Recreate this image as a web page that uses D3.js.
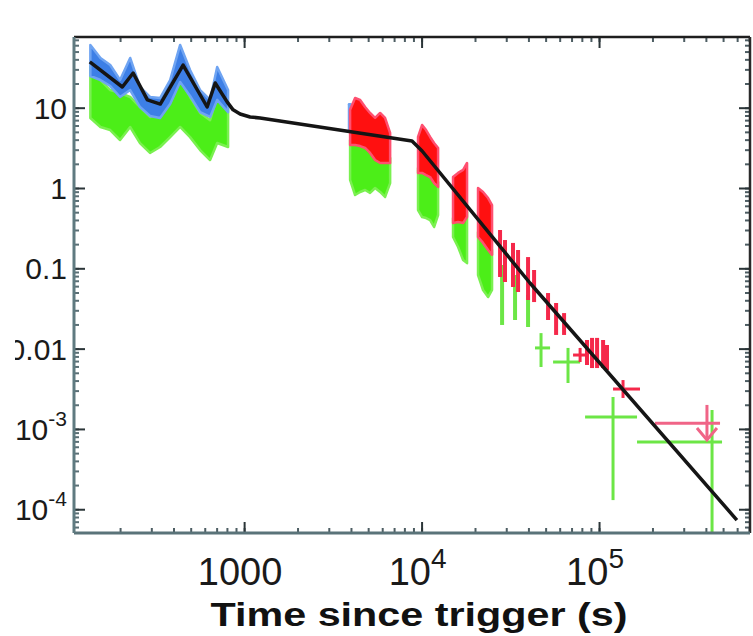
<!DOCTYPE html>
<html><head><meta charset="utf-8">
<script src="https://cdn.jsdelivr.net/npm/d3@7"></script>
<style>html,body{margin:0;padding:0;background:#fff}svg{display:block}</style>
</head><body>
<svg id="c" width="753" height="636"></svg>
<script>
// ---------------- data ----------------
const xDomain = [110, 7.09e5];
const yDomain = [5.06e-5, 75.9];

const xTickValues = [1000, 1e4, 1e5];
const xTickBase   = ["1000", "10", "10"];
const xTickExp    = ["", "4", "5"];
const yTickValues = [10, 1, 0.1, 0.01, 1e-3, 1e-4];
const yTickBase   = ["10", "1", "0.1", "0.01", "10", "10"];
const yTickExp    = ["", "", "", "", "-3", "-4"];
const xTitle = "Time since trigger (s)";

// best-fit model (black line)
const modelTime = [135, 206, 237, 285, 337, 453, 619, 687, 802, 867, 949, 1081, 1230, 8830, 10070, 40800, 598000];
const modelFlux = [37.1, 18.1, 27.0, 12.5, 11.1, 34.0, 10.2, 20.3, 11.8, 9.4, 8.35, 7.66, 7.45, 3.85, 2.89, 0.0656, 7.34e-5];

// BAT extrapolated data (blue = 0.3-10 keV, green = observed band)
const batTime    = [136, 155, 176, 200, 228, 259, 295, 336, 383, 436, 496, 565, 643, 705, 812];
const batBlueHi  = [60.4, 41.6, 34.0, 22.1, 41.6, 18.1, 13.6, 13.2, 22.1, 60.4, 29.5, 16.6, 12.5, 32.1, 16.6];
const batBlueLo  = [24.8, 22.1, 18.6, 13.6, 16.6, 10.2, 7.9, 7.45, 11.1, 20.9, 14.0, 8.8, 7.66, 12.5, 8.8];
const batGreenHi = [32.1, 22.1, 16.6, 15.2, 13.6, 10.2, 7.66, 8.6, 11.4, 22.1, 13.6, 8.6, 7.0, 13.6, 10.2];
const batGreenLo = [7.45, 5.75, 5.27, 3.96, 5.75, 3.63, 2.73, 3.24, 4.3, 5.75, 4.3, 2.97, 2.23, 3.63, 3.24];

// XRT orbits (red = unabsorbed, green = observed)
const xrtOrbit   = [1,1,1,1,1,1,1,1,1, 2,2,2,2,2,2, 3,3,3,3, 4,4,4,4];
const xrtTime    = [3955, 4220, 4505, 4805, 5125, 5470, 5840, 6225, 6650,
                    9550, 10070, 10600, 11170, 11760, 12390,
                    15040, 16060, 17140, 18040,
                    20800, 22200, 23700, 24950];
const xrtRedHi   = [9.4, 13.2, 12.5, 10.2, 8.6, 7.45, 8.6, 7.45, 4.84,
                    4.32, 6.09, 5.27, 4.32, 3.63, 3.15,
                    1.37, 1.54, 1.68, 2.05,
                    1.0, 0.892, 0.750, 0.614];
const xrtRedLo   = [3.43, 3.43, 3.33, 3.15, 2.73, 2.23, 2.05, 2.05, 2.05,
                    1.54, 1.54, 1.45, 1.37, 1.15, 1.03,
                    0.367, 0.377, 0.367, 0.435,
                    0.245, 0.207, 0.169, 0.147];
const xrtGreenHi = [3.96, 3.96, 3.85, 3.63, 3.15, 2.58, 2.36, 2.36, 2.36,
                    1.77, 1.77, 1.68, 1.58, 1.33, 1.19,
                    0.423, 0.435, 0.423, 0.503,
                    0.283, 0.238, 0.195, 0.169];
const xrtGreenLo = [1.26, 0.818, 0.892, 0.944, 0.867, 1.0, 0.892, 0.773, 1.15,
                    0.532, 0.435, 0.423, 0.399, 0.327, 0.461,
                    0.245, 0.184, 0.127, 0.116,
                    0.0826, 0.0537, 0.0439, 0.0537];
// small blue sliver at the start of the first XRT orbit
const xrtBlueTime = [3900, 3990];
const xrtBlueHi   = [11.0, 11.0];
const xrtBlueLo   = [5.3, 5.3];

// late single red error bars
const redBarTime = [27680, 29520, 32740, 34970, 39810, 43050, 51600, 57280, 63530, 85550, 91310, 97480, 105400, 110900];
const redBarHi   = [0.300, 0.225, 0.207, 0.169, 0.138, 0.0953, 0.0492, 0.0370, 0.0277, 0.0128, 0.0136, 0.0136, 0.0128, 0.0111];
const redBarLo   = [0.0780, 0.0675, 0.0585, 0.0507, 0.0403, 0.0380, 0.0227, 0.0148, 0.0148, 0.00625, 0.00573, 0.00573, 0.00573, 0.00541];
// red crosses
const redCrossTime = [78210, 136500];
const redCrossTLo  = [71380, 119900];
const redCrossTHi  = [85550, 170200];
const redCrossFlux = [0.00832, 0.00314];
const redCrossFLo  = [0.00681, 0.00243];
const redCrossFHi  = [0.0102, 0.00406];
// red upper limit
const ulTime = [405600], ulTLo = [206700], ulTHi = [480600], ulFlux = [0.00118], ulTop = [0.00199], ulArrow = [0.000728];

// late single green error bars
const greenBarTime = [28420, 33630, 39810];
const greenBarHi   = [0.110, 0.0826, 0.0465];
const greenBarLo   = [0.0197, 0.0227, 0.0186];
// green crosses
const greenCrossTime = [47110, 66860, 119900, 433300];
const greenCrossTLo  = [43570, 55080, 83430, 163700];
const greenCrossTHi  = [52960, 78210, 163700, 493300];
const greenCrossFlux = [0.0102, 0.00681, 0.00141, 0.000687];
const greenCrossFLo  = [0.00590, 0.00373, 0.000130, 3e-5];
const greenCrossFHi  = [0.0156, 0.0102, 0.00250, 0.00172];

// ---------------- drawing ----------------
const W = 753, H = 636;
const L = 74, R = 750, T = 37, B = 533;
const svg = d3.select("#c");
svg.append("rect").attr("width", W).attr("height", H).attr("fill", "#fff");

const x = d3.scaleLog().domain(xDomain).range([L, R]);
const y = d3.scaleLog().domain(yDomain).range([B, T]);

const defs = svg.append("defs");
defs.append("clipPath").attr("id", "plotclip").append("rect")
  .attr("x", L).attr("y", T).attr("width", R - L).attr("height", B - T);
defs.append("clipPath").attr("id", "labclip").append("rect")
  .attr("x", 15).attr("y", 0).attr("width", W - 15).attr("height", H);

const g = svg.append("g").attr("clip-path", "url(#plotclip)");

function band(times, hi, lo, fill, edge) {
  const pts = times.map((t, i) => ({t, hi: hi[i], lo: lo[i]}));
  const area = d3.area().x(d => x(d.t)).y0(d => y(d.lo)).y1(d => y(d.hi));
  g.append("path").datum(pts).attr("d", area)
    .attr("fill", fill).attr("stroke", edge).attr("stroke-width", 2.5)
    .attr("stroke-linejoin", "round");
}

// BAT bands (green underneath, blue on top)
band(batTime, batGreenHi, batGreenLo, "#4cee18", "#7af050");
band(batTime, batBlueHi, batBlueLo, "#3d7fe6", "#6fa4f2");

// XRT orbit bands
const orbits = d3.groups(xrtTime.map((t, i) => i), i => xrtOrbit[i]);
orbits.forEach(([k, idx]) => {
  band(idx.map(i => xrtTime[i]), idx.map(i => xrtGreenHi[i]), idx.map(i => xrtGreenLo[i]), "#4cee18", "#7af050");
});
band(xrtBlueTime, xrtBlueHi, xrtBlueLo, "#3d7fe6", "#6fa4f2");
orbits.forEach(([k, idx]) => {
  band(idx.map(i => xrtTime[i]), idx.map(i => xrtRedHi[i]), idx.map(i => xrtRedLo[i]), "#ff1010", "#ff5070");
});

// late green bars and crosses
const greenCol = "#6ce646";
g.selectAll("line.gbar").data(greenBarTime).join("line").attr("class", "gbar")
  .attr("x1", d => x(d)).attr("x2", d => x(d))
  .attr("y1", (d, i) => y(greenBarHi[i])).attr("y2", (d, i) => y(greenBarLo[i]))
  .attr("stroke", greenCol).attr("stroke-width", 4);
greenCrossTime.forEach((t, i) => {
  g.append("line").attr("x1", x(t)).attr("x2", x(t))
    .attr("y1", y(greenCrossFHi[i])).attr("y2", y(greenCrossFLo[i]))
    .attr("stroke", greenCol).attr("stroke-width", 3);
  g.append("line").attr("x1", x(greenCrossTLo[i])).attr("x2", x(greenCrossTHi[i]))
    .attr("y1", y(greenCrossFlux[i])).attr("y2", y(greenCrossFlux[i]))
    .attr("stroke", greenCol).attr("stroke-width", 3);
});

// late red bars and crosses
const redCol = "#f5284a";
g.selectAll("line.rbar").data(redBarTime).join("line").attr("class", "rbar")
  .attr("x1", d => x(d)).attr("x2", d => x(d))
  .attr("y1", (d, i) => y(redBarHi[i])).attr("y2", (d, i) => y(redBarLo[i]))
  .attr("stroke", redCol).attr("stroke-width", 4);
redCrossTime.forEach((t, i) => {
  g.append("line").attr("x1", x(t)).attr("x2", x(t))
    .attr("y1", y(redCrossFHi[i])).attr("y2", y(redCrossFLo[i]))
    .attr("stroke", redCol).attr("stroke-width", 3);
  g.append("line").attr("x1", x(redCrossTLo[i])).attr("x2", x(redCrossTHi[i]))
    .attr("y1", y(redCrossFlux[i])).attr("y2", y(redCrossFlux[i]))
    .attr("stroke", redCol).attr("stroke-width", 3);
});
// upper limit
const ulCol = "#f06487";
ulTime.forEach((t, i) => {
  g.append("line").attr("x1", x(ulTLo[i])).attr("x2", x(ulTHi[i]))
    .attr("y1", y(ulFlux[i])).attr("y2", y(ulFlux[i]))
    .attr("stroke", ulCol).attr("stroke-width", 3);
  g.append("line").attr("x1", x(t)).attr("x2", x(t))
    .attr("y1", y(ulTop[i])).attr("y2", y(ulArrow[i]))
    .attr("stroke", ulCol).attr("stroke-width", 3);
  const ax = x(t), ay = y(ulArrow[i]);
  g.append("path").attr("d", `M${ax - 10},${ay - 12}L${ax},${ay}L${ax + 10},${ay - 12}`)
    .attr("fill", "none").attr("stroke", ulCol).attr("stroke-width", 3);
});

// model line
const line = d3.line().x(d => x(d[0])).y(d => y(d[1]));
g.append("path").datum(modelTime.map((t, i) => [t, modelFlux[i]]))
  .attr("d", line).attr("fill", "none").attr("stroke", "#151515")
  .attr("stroke-width", 3.5).attr("stroke-linejoin", "round");

// ---------- axes ----------
const minorX = x.ticks(), minorY = y.ticks();
function ax(gen, scale, pos, vals, size, col) {
  const a = svg.append("g").attr("transform", pos)
    .call(gen(scale).tickValues(vals).tickSize(-size).tickFormat(""));
  a.select(".domain").remove();
  a.selectAll(".tick line").attr("stroke", col).attr("stroke-width", 2);
}
ax(d3.axisBottom, x, `translate(0,${B})`, minorX, 5, "#4d5d63");
ax(d3.axisBottom, x, `translate(0,${B})`, xTickValues, 11, "#2b3538");
ax(d3.axisTop, x, `translate(0,${T})`, minorX, 5, "#4d5d63");
ax(d3.axisTop, x, `translate(0,${T})`, xTickValues, 11, "#2b3538");
ax(d3.axisLeft, y, `translate(${L},0)`, minorY, 5, "#5a6e74");
ax(d3.axisLeft, y, `translate(${L},0)`, yTickValues, 11, "#2b3538");
ax(d3.axisRight, y, `translate(${R},0)`, minorY, 5, "#4d5d63");
ax(d3.axisRight, y, `translate(${R},0)`, yTickValues, 11, "#2b3538");

// frame
svg.append("line").attr("x1", L).attr("x2", R).attr("y1", T).attr("y2", T).attr("stroke", "#1e1e1e").attr("stroke-width", 2.5);
svg.append("line").attr("x1", R).attr("x2", R).attr("y1", T).attr("y2", B).attr("stroke", "#2a2a2a").attr("stroke-width", 2.5);
svg.append("line").attr("x1", L).attr("x2", R).attr("y1", B).attr("y2", B).attr("stroke", "#5a7379").attr("stroke-width", 3);
svg.append("line").attr("x1", L).attr("x2", L).attr("y1", T).attr("y2", B).attr("stroke", "#5f7a80").attr("stroke-width", 3);

// y tick labels
const yl = svg.append("g").attr("clip-path", "url(#labclip)")
  .attr("font-family", "'Liberation Sans', Arial, sans-serif").attr("fill", "#1a1a1a");
yTickValues.forEach((v, i) => {
  const t = yl.append("text").attr("x", 67).attr("y", y(v) + 11)
    .attr("text-anchor", "end").attr("font-size", 30);
  t.append("tspan").text(yTickBase[i]);
  if (yTickExp[i]) t.append("tspan").attr("dy", -14).attr("font-size", 21).text(yTickExp[i]);
});

// x tick labels
const xl = svg.append("g").attr("font-family", "'Liberation Sans', Arial, sans-serif").attr("fill", "#1a1a1a");
xTickValues.forEach((v, i) => {
  const t = xl.append("text").attr("x", x(v) - 4).attr("y", 585)
    .attr("text-anchor", "middle").attr("font-size", 38);
  t.append("tspan").text(xTickBase[i]);
  if (xTickExp[i]) t.append("tspan").attr("dy", -17).attr("font-size", 28).text(xTickExp[i]);
});

// x title
svg.append("text").attr("x", 419).attr("y", 626).attr("text-anchor", "middle")
  .attr("font-family", "'Liberation Sans', Arial, sans-serif").attr("font-weight", "bold")
  .attr("font-size", 34).attr("textLength", 417).attr("lengthAdjust", "spacingAndGlyphs")
  .attr("fill", "#111").text(xTitle);
</script>
</body></html>
